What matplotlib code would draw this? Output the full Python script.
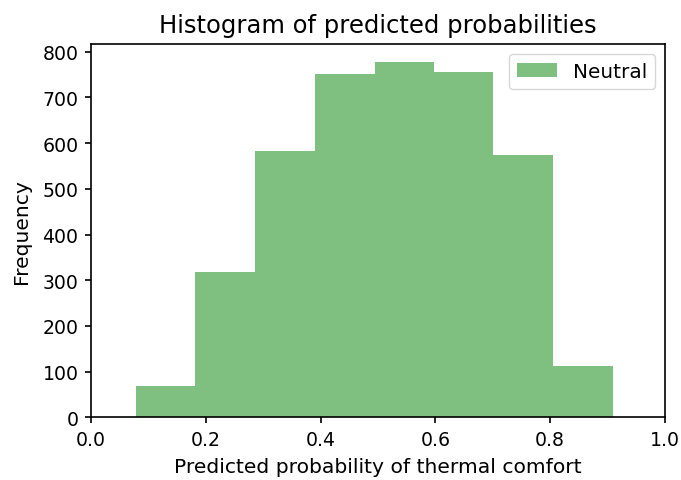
import numpy as np
import matplotlib
matplotlib.use("Agg")
import matplotlib.pyplot as plt

# Bin edges and counts of predicted probabilities for the neutral class
bin_edges = [0.078, 0.182, 0.286, 0.390, 0.494, 0.598, 0.701, 0.805, 0.909]
counts = [68, 319, 582, 752, 778, 756, 575, 113]
label = "Neutral"

fig = plt.figure(figsize=(6.81, 4.81), dpi=100)
ax = fig.add_axes([0.1336, 0.1304, 0.8429, 0.7760])

centers = (np.array(bin_edges[:-1]) + np.array(bin_edges[1:])) / 2
ax.hist(centers, bins=bin_edges, weights=counts, color="green", alpha=0.5, label=label)

ax.set_xlim(0, 1)
ax.set_title("Histogram of predicted probabilities", fontsize=17.5, pad=8.5)
ax.set_xlabel("Predicted probability of thermal comfort", fontsize=14.6, labelpad=6)
ax.set_ylabel("Frequency", fontsize=14.6, labelpad=8.5)
ax.tick_params(labelsize=13.6, length=4.5, width=1.2, pad=4.5)
for spine in ax.spines.values():
    spine.set_linewidth(1.2)
ax.legend(fontsize=14.4)

plt.savefig("out.png", dpi=100)
